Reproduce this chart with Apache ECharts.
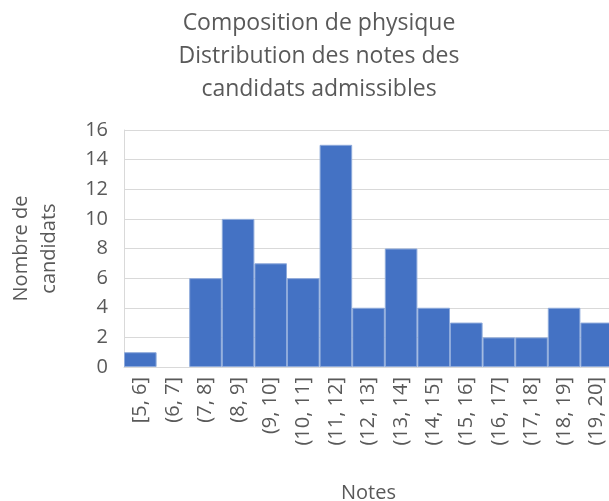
<!DOCTYPE html>
<html>
<head>
<meta charset="utf-8">
<script src="https://cdn.jsdelivr.net/npm/echarts@6/dist/echarts.min.js"></script>
<style>
  html, body { margin: 0; padding: 0; background: #fff; }
  #chart { width: 609px; height: 501px; }
</style>
</head>
<body>
<div id="chart"></div>
<script>
// intervalles de notes et effectifs
const categories = ['[5, 6]', '(6, 7]', '(7, 8]', '(8, 9]', '(9, 10]', '(10, 11]', '(11, 12]',
  '(12, 13]', '(13, 14]', '(14, 15]', '(15, 16]', '(16, 17]', '(17, 18]', '(18, 19]', '(19, 20]'];
const counts = [1, 0, 6, 10, 7, 6, 15, 4, 8, 4, 3, 2, 2, 4, 3];

const font = 'Open Sans, Liberation Sans, sans-serif';
const grey = '#595959';

let myChart = echarts.init(document.getElementById('chart'));

const option = {
  animation: false,
  title: {
    text: 'Composition de physique\nDistribution des notes des\ncandidats admissibles',
    left: 314,
    textAlign: 'center',
    top: 2,
    textStyle: {
      fontFamily: font,
      fontSize: 23,
      fontWeight: 'normal',
      color: grey,
      lineHeight: 33
    }
  },
  grid: {
    left: 124,
    right: -4,
    top: 130,
    bottom: 134,
    outerBoundsMode: 'none'
  },
  xAxis: {
    type: 'category',
    data: categories,
    name: 'Notes',
    nameLocation: 'middle',
    nameGap: 116,
    nameTextStyle: { fontFamily: font, fontSize: 20, color: grey },
    axisTick: { show: false },
    axisLine: { lineStyle: { color: '#d9d9d9' } },
    axisLabel: {
      rotate: 90,
      interval: 0,
      margin: 10,
      fontFamily: font,
      fontSize: 20,
      color: grey
    }
  },
  yAxis: {
    type: 'value',
    min: 0,
    max: 16,
    interval: 2,
    name: 'Nombre de\ncandidats',
    nameLocation: 'middle',
    nameGap: 61,
    nameTextStyle: { fontFamily: font, fontSize: 20, color: grey, lineHeight: 28 },
    axisLine: { show: true, lineStyle: { color: '#d9d9d9' } },
    splitLine: { lineStyle: { color: '#d9d9d9' } },
    axisLabel: {
      margin: 16,
      fontFamily: font,
      fontSize: 20,
      color: grey
    }
  },
  series: [
    {
      type: 'bar',
      data: counts.map(v => ({ value: v, itemStyle: v === 0 ? { borderWidth: 0 } : {} })),
      barCategoryGap: 0,
      itemStyle: {
        color: '#4472C4',
        borderColor: '#8eaadb',
        borderWidth: 1
      }
    }
  ]
};

option && myChart.setOption(option);
</script>
</body>
</html>
